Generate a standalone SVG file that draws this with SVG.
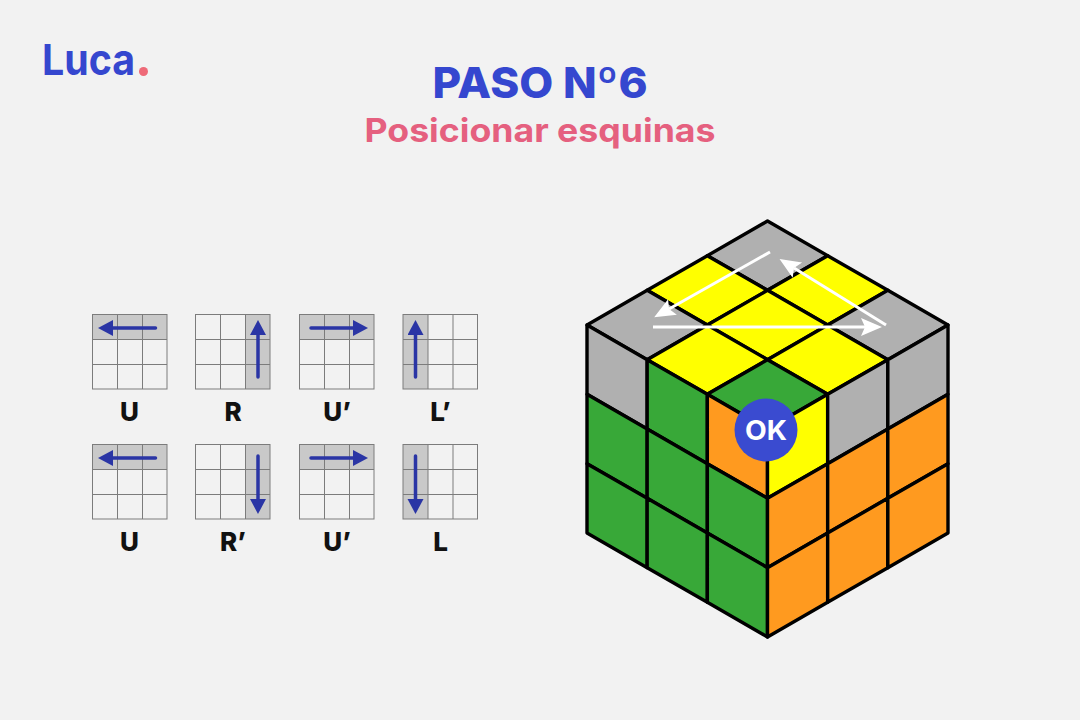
<svg xmlns="http://www.w3.org/2000/svg" width="1080" height="720" viewBox="0 0 1080 720">
<style>
text{font-family:Inter,"Liberation Sans",sans-serif;font-weight:700}
.title{fill:#3547cf;font-size:43px;font-weight:800;text-anchor:middle}
.sub{fill:#e5607f;font-size:33px;font-weight:700;text-anchor:middle}
.lbl{fill:#111;font-size:26px;font-weight:800;text-anchor:middle}
.hl{fill:#c9c9c9}
.gridl{fill:none;stroke:#7c7c7c;stroke-width:1}
.mv{stroke:#2a35a5;stroke-width:3.5;stroke-linecap:round;fill:none;marker-end:url(#navyHead)}
.wa{stroke:#fff;stroke-width:3;fill:none;marker-end:url(#whiteHead)}
.cells polygon{stroke:#000;stroke-width:3.4;stroke-linejoin:round}
.gy{fill:#b0b0b0}.yl{fill:#ffff00}.gn{fill:#38a838}.or{fill:#ff9a1f}
</style>
<defs>
<marker id="navyHead" markerUnits="userSpaceOnUse" markerWidth="18" markerHeight="18" refX="1" refY="8" orient="auto"><path d="M0,0 L15,8 L0,16 Z" fill="#2a35a5"/></marker>
<marker id="whiteHead" markerUnits="userSpaceOnUse" markerWidth="24" markerHeight="20" refX="4" refY="9" orient="auto"><path d="M0,0 L21,9 L0,18 L4,9 Z" fill="#fff"/></marker>
<g id="grid3"><rect class="gridl" x="0" y="0" width="74.500" height="74.500"/><path class="gridl" d="M25,0V74.500M50,0V74.500M0,25H74.500M0,50H74.500"/></g>
</defs>
<rect width="1080" height="720" fill="#f2f2f2"/>
<g id="logo"><text x="42" y="75" font-size="43" font-weight="800" fill="#3547cf" textLength="93" lengthAdjust="spacingAndGlyphs">Luca</text><circle cx="143.500" cy="71.500" r="4.500" fill="#ee6a78"/></g>
<g id="heading">
<text class="title" x="540" y="98" textLength="215" lengthAdjust="spacingAndGlyphs">PASO Nº6</text>
<text class="sub" x="540" y="142" textLength="351" lengthAdjust="spacingAndGlyphs">Posicionar esquinas</text>
</g>
<g id="move-u-1"><rect class="hl" x="92.500" y="314.500" width="74.500" height="25"/><use href="#grid3" x="92.500" y="314.500"/><line class="mv" x1="155.500" y1="328" x2="112" y2="328"/><text class="lbl" x="129.500" y="421">U</text></g>
<g id="move-r-1"><rect class="hl" x="245.500" y="314.500" width="24.500" height="74.500"/><use href="#grid3" x="195.500" y="314.500"/><line class="mv" x1="258" y1="377" x2="258" y2="334"/><text class="lbl" x="233" y="421">R</text></g>
<g id="move-ui-1"><rect class="hl" x="299.500" y="314.500" width="74.500" height="25"/><use href="#grid3" x="299.500" y="314.500"/><line class="mv" x1="311" y1="328" x2="354" y2="328"/><text class="lbl" x="337" y="421">U’</text></g>
<g id="move-li-1"><rect class="hl" x="403" y="314.500" width="25" height="74.500"/><use href="#grid3" x="403" y="314.500"/><line class="mv" x1="415.500" y1="377" x2="415.500" y2="334"/><text class="lbl" x="440.500" y="421">L’</text></g>
<g id="move-u-2"><rect class="hl" x="92.500" y="444.500" width="74.500" height="25"/><use href="#grid3" x="92.500" y="444.500"/><line class="mv" x1="155.500" y1="458" x2="112" y2="458"/><text class="lbl" x="129.500" y="551">U</text></g>
<g id="move-ri-2"><rect class="hl" x="245.500" y="444.500" width="24.500" height="74.500"/><use href="#grid3" x="195.500" y="444.500"/><line class="mv" x1="258" y1="456" x2="258" y2="500"/><text class="lbl" x="233" y="551">R’</text></g>
<g id="move-ui-2"><rect class="hl" x="299.500" y="444.500" width="74.500" height="25"/><use href="#grid3" x="299.500" y="444.500"/><line class="mv" x1="311" y1="458" x2="354" y2="458"/><text class="lbl" x="337" y="551">U’</text></g>
<g id="move-l-2"><rect class="hl" x="403" y="444.500" width="25" height="74.500"/><use href="#grid3" x="403" y="444.500"/><line class="mv" x1="415.500" y1="456" x2="415.500" y2="500"/><text class="lbl" x="440.500" y="551">L</text></g>
<g id="cube" class="cells">
<polygon class="gy" points="767.5,221 827.67,255.67 767.5,290.33 707.33,255.67"/>
<polygon class="yl" points="707.33,255.67 767.5,290.33 707.33,325 647.17,290.33"/>
<polygon class="gy" points="647.17,290.33 707.33,325 647.17,359.67 587,325"/>
<polygon class="yl" points="827.67,255.67 887.83,290.33 827.67,325 767.5,290.33"/>
<polygon class="yl" points="767.5,290.33 827.67,325 767.5,359.67 707.33,325"/>
<polygon class="yl" points="707.33,325 767.5,359.67 707.33,394.33 647.17,359.67"/>
<polygon class="gy" points="887.83,290.33 948,325 887.83,359.67 827.67,325"/>
<polygon class="yl" points="827.67,325 887.83,359.67 827.67,394.33 767.5,359.67"/>
<polygon class="gn" points="767.5,359.67 827.67,394.33 767.5,429 707.33,394.33"/>
<polygon class="gy" points="587,325 647.17,359.67 647.17,429 587,394.33"/>
<polygon class="gn" points="587,394.33 647.17,429 647.17,498.33 587,463.67"/>
<polygon class="gn" points="587,463.67 647.17,498.33 647.17,567.67 587,533"/>
<polygon class="gn" points="647.17,359.67 707.33,394.33 707.33,463.67 647.17,429"/>
<polygon class="gn" points="647.17,429 707.33,463.67 707.33,533 647.17,498.33"/>
<polygon class="gn" points="647.17,498.33 707.33,533 707.33,602.33 647.17,567.67"/>
<polygon class="or" points="707.33,394.33 767.5,429 767.5,498.33 707.33,463.67"/>
<polygon class="gn" points="707.33,463.67 767.5,498.33 767.5,567.67 707.33,533"/>
<polygon class="gn" points="707.33,533 767.5,567.67 767.5,637 707.33,602.33"/>
<polygon class="yl" points="767.5,429 827.67,394.33 827.67,463.67 767.5,498.33"/>
<polygon class="or" points="767.5,498.33 827.67,463.67 827.67,533 767.5,567.67"/>
<polygon class="or" points="767.5,567.67 827.67,533 827.67,602.33 767.5,637"/>
<polygon class="gy" points="827.67,394.33 887.83,359.67 887.83,429 827.67,463.67"/>
<polygon class="or" points="827.67,463.67 887.83,429 887.83,498.33 827.67,533"/>
<polygon class="or" points="827.67,533 887.83,498.33 887.83,567.67 827.67,602.33"/>
<polygon class="gy" points="887.83,359.67 948,325 948,394.33 887.83,429"/>
<polygon class="or" points="887.83,429 948,394.33 948,463.67 887.83,498.33"/>
<polygon class="or" points="887.83,498.33 948,463.67 948,533 887.83,567.67"/>
</g>
<g id="connectors">
<line class="wa" x1="770" y1="252" x2="669" y2="309"/>
<line class="wa" x1="653" y1="327" x2="865" y2="327"/>
<line class="wa" x1="886" y1="325" x2="794" y2="268"/>
</g>
<g id="ok-badge"><circle cx="766" cy="430" r="31.500" fill="#3a4bd0"/><text x="766" y="440" font-size="27" fill="#fff" text-anchor="middle" font-weight="800" textLength="42" lengthAdjust="spacingAndGlyphs">OK</text></g>
</svg>
